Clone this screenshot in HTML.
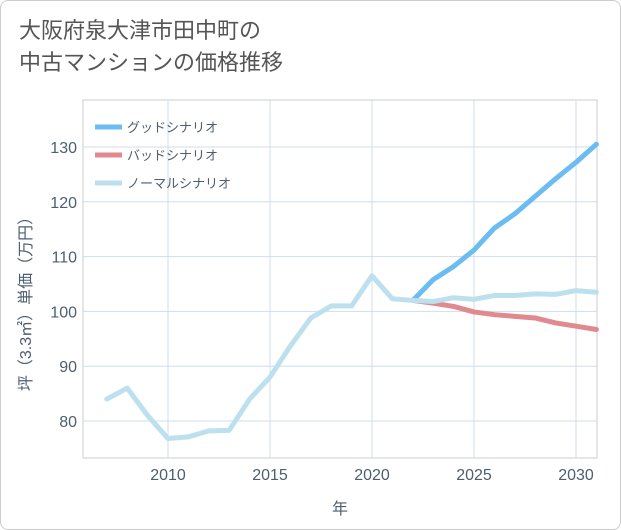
<!DOCTYPE html>
<html><head><meta charset="utf-8">
<style>
body{margin:0;background:#fff;}
#wrap{position:relative;width:619px;height:528px;border:1px solid #ccc;border-radius:8px;overflow:hidden;font-family:"Liberation Sans","Noto Sans CJK JP",sans-serif;}
#title{position:absolute;left:18px;top:14px;font-size:22px;line-height:32px;color:#555;}
</style></head><body>
<div id="wrap">
<div id="title">大阪府泉大津市田中町の<br>中古マンションの価格推移</div>
<svg id="chart" width="621" height="530" style="position:absolute;left:-1px;top:-1px"></svg>
</div>
<script>
const years=[2007,2008,2009,2010,2011,2012,2013,2014,2015,2016,2017,2018,2019,2020,2021,2022,2023,2024,2025,2026,2027,2028,2029,2030,2031];
const normalVals=[84,86,81,76.8,77.1,78.2,78.3,84,88,93.7,98.8,101,101,106.5,102.3,102,101.8,102.5,102.2,102.9,102.9,103.2,103.1,103.8,103.5];
const goodYears=[2022,2023,2024,2025,2026,2027,2028,2029,2030,2031];
const goodVals=[102,105.8,108.2,111.2,115.2,117.8,121,124.2,127.2,130.5];
const badVals=[102,101.5,100.9,99.9,99.4,99.1,98.8,97.9,97.3,96.7];
const xTicks=[2010,2015,2020,2025,2030];
const yTicks=[80,90,100,110,120,130];
const NS="http://www.w3.org/2000/svg";
const svg=document.getElementById('chart');
const L=83,R=597,T=100,B=458;
const TXT='#4d5e70';
const x=v=>168+(v-2010)*20.4;
const y=v=>421-(v-80)*5.48;
function mk(t,a){const e=document.createElementNS(NS,t);for(const k in a)e.setAttribute(k,a[k]);svg.appendChild(e);return e;}
const bg=mk('rect',{x:L,y:T,width:R-L,height:B-T,fill:'#fff',stroke:'#ccc'});


xTicks.forEach(v=>{
 const g=mk('line',{x1:x(v),x2:x(v),y1:T,y2:B,stroke:'#cfdde8'});
 
 
 const t=mk('text',{x:x(v),y:B+22,'text-anchor':'middle','font-size':16,fill:TXT});
 t.textContent=v;
 
 
});
yTicks.forEach(v=>{
 const g=mk('line',{x1:L,x2:R,y1:y(v),y2:y(v),stroke:'#cfdde8'});
 
 
 const t=mk('text',{x:L-6,y:y(v)+6,'text-anchor':'end','font-size':16,fill:TXT});
 t.textContent=v;
 
 
});
const xt=mk('text',{x:340,y:514,'text-anchor':'middle','font-size':16,fill:TXT});
xt.textContent='年';


const yt=mk('text',{x:0,y:0,'text-anchor':'middle','font-size':16,fill:TXT,transform:'translate(31,300) rotate(-90)'});
yt.textContent='坪（3.3㎡）単価（万円）';


function line(xs,vs,color,name){
 const p=mk('polyline',{points:xs.map((yr,i)=>x(yr)+','+y(vs[i])).join(' '),fill:'none',stroke:color,'stroke-width':5,'stroke-linejoin':'round','stroke-linecap':'round'});
 
 
}
line(goodYears,goodVals,'#6bbcf0','good-scenario-line');
line(goodYears,badVals,'#e0898e','bad-scenario-line');
line(years,normalVals,'#bde0ee','normal-scenario-line');
const leg=[['グッドシナリオ','#6bbcf0'],['バッドシナリオ','#e0898e'],['ノーマルシナリオ','#bde0ee']];
leg.forEach((l,i)=>{
 const yy=127+i*28;
 const s=mk('line',{x1:95,x2:122,y1:yy,y2:yy,stroke:l[1],'stroke-width':5});
 
 
 const t=mk('text',{x:127,y:yy+5,'font-size':13,fill:TXT});
 t.textContent=l[0];
 
 
});
</script>
</body></html>
